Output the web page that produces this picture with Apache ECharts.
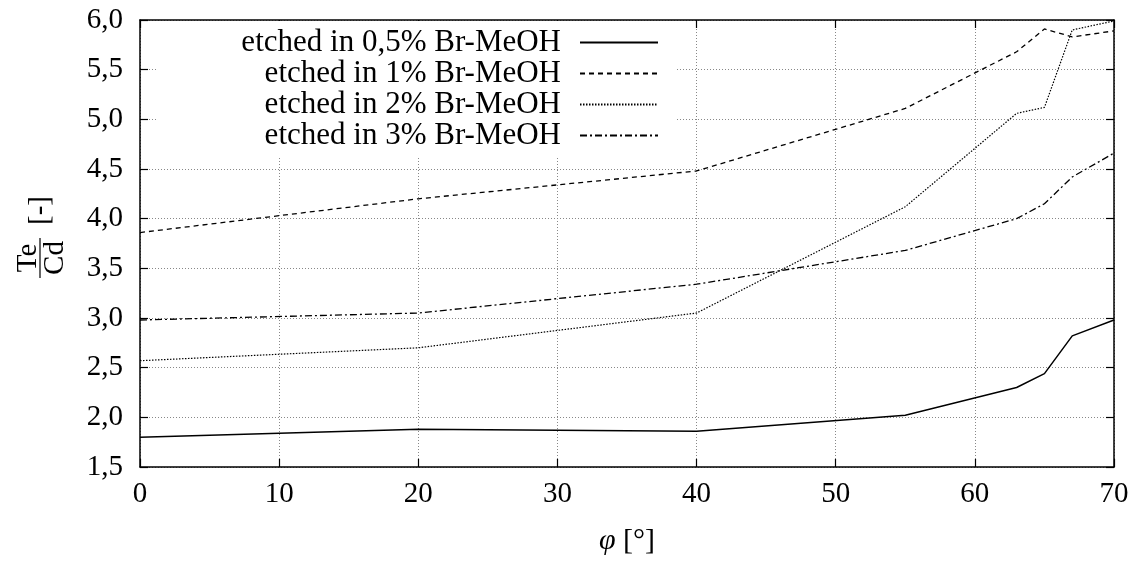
<!DOCTYPE html>
<html>
<head>
<meta charset="utf-8">
<script src="https://cdn.jsdelivr.net/npm/echarts@6/dist/echarts.min.js"></script>
<style>
html, body { margin: 0; background: #fff; }
#chart { width: 1138px; height: 563px; }
</style>
</head>
<body>
<div id="chart"></div>
<script>
// tilt angle phi [deg] at which Te/Cd was measured
const angles = [0, 20, 40, 55, 63, 65, 67, 70];

// Te/Cd ratio per etching solution
const etch05 = [1.80, 1.88, 1.86, 2.02, 2.30, 2.44, 2.82, 2.98];
const etch1 = [3.86, 4.20, 4.48, 5.11, 5.68, 5.91, 5.83, 5.89];
const etch2 = [2.57, 2.70, 3.05, 4.12, 5.06, 5.12, 5.90, 5.99];
const etch3 = [2.98, 3.05, 3.34, 3.68, 4.00, 4.15, 4.42, 4.66];

const seriesNames = [
    'etched in 0,5% Br-MeOH',
    'etched in 1% Br-MeOH',
    'etched in 2% Br-MeOH',
    'etched in 3% Br-MeOH'
];

const xTicks = [0, 10, 20, 30, 40, 50, 60, 70];
const yTicks = [1.5, 2.0, 2.5, 3.0, 3.5, 4.0, 4.5, 5.0, 5.5, 6.0];

const serif = 'Liberation Serif';

function pairs(values) {
    return angles.map((a, i) => [a, values[i]]);
}

function mkSeries(name, values, width, type) {
    return {
        name: name,
        type: 'line',
        symbol: 'none',
        data: pairs(values),
        lineStyle: { color: '#000', width: width, type: type },
        itemStyle: { color: '#000' }
    };
}

const border = { show: true, onZero: false, lineStyle: { color: '#000', width: 1.5 } };
const ticks = { show: true, inside: true, length: 8, lineStyle: { color: '#000', width: 1.2 } };
const grid_line = { show: true, lineStyle: { color: '#888', width: 1, type: [1, 2] } };

let chart = echarts.init(document.getElementById('chart'));
chart.setOption({
    animation: false,
    backgroundColor: '#fff',
    grid: { left: 140, right: 24, top: 20, bottom: 96 },
    legend: {
        data: seriesNames,
        orient: 'vertical',
        align: 'right',
        right: 461,
        top: 21,
        padding: [6, 18, 7, 84],
        backgroundColor: '#fff',
        itemWidth: 78,
        itemHeight: 14,
        itemGap: 0,
        selectedMode: false,
        itemStyle: { opacity: 0 },
        textStyle: { fontFamily: serif, fontSize: 31, color: '#000', padding: [0, 14, 0, 0] }
    },
    xAxis: [
        {
            type: 'value',
            min: xTicks[0],
            max: xTicks[xTicks.length - 1],
            interval: xTicks[1] - xTicks[0],
            axisLine: border,
            axisTick: ticks,
            splitLine: grid_line,
            axisLabel: { fontFamily: serif, fontSize: 29, color: '#000', margin: 13 },
            name: '{i|φ} [°]',
            nameLocation: 'middle',
            nameGap: 59,
            nameTextStyle: {
                fontFamily: serif, fontSize: 30, color: '#000',
                rich: { i: { fontFamily: serif, fontSize: 30, fontStyle: 'italic', color: '#000' } }
            }
        },
        {
            type: 'value',
            position: 'top',
            min: xTicks[0],
            max: xTicks[xTicks.length - 1],
            interval: xTicks[1] - xTicks[0],
            axisLine: border,
            axisTick: ticks,
            axisLabel: { show: false },
            splitLine: { show: false }
        }
    ],
    yAxis: [
        {
            type: 'value',
            min: yTicks[0],
            max: yTicks[yTicks.length - 1],
            interval: 0.5,
            axisLine: border,
            axisTick: ticks,
            splitLine: grid_line,
            axisLabel: {
                fontFamily: serif, fontSize: 29, color: '#000', margin: 17,
                formatter: v => v.toFixed(1).replace('.', ',')
            }
        },
        {
            type: 'value',
            position: 'right',
            min: yTicks[0],
            max: yTicks[yTicks.length - 1],
            interval: 0.5,
            axisLine: border,
            axisTick: ticks,
            axisLabel: { show: false },
            splitLine: { show: false }
        }
    ],
    // y axis title: Te over Cd as a fraction, then [-]
    graphic: [
        {
            type: 'group',
            x: 40,
            y: 258,
            rotation: Math.PI / 2,
            children: [
                {
                    type: 'text',
                    style: { text: 'Te', x: 0, y: 3, align: 'center', verticalAlign: 'bottom', fontFamily: serif, fontSize: 29, fill: '#000' }
                },
                {
                    type: 'line',
                    shape: { x1: -20, y1: 0, x2: 20, y2: 0 },
                    style: { stroke: '#000', lineWidth: 1.2 }
                },
                {
                    type: 'text',
                    style: { text: 'Cd', x: 0, y: 1, align: 'center', verticalAlign: 'top', fontFamily: serif, fontSize: 29, fill: '#000' }
                },
                {
                    type: 'text',
                    style: { text: '[-]', x: 33, y: 0, align: 'left', verticalAlign: 'middle', fontFamily: serif, fontSize: 29, fill: '#000' }
                }
            ]
        }
    ],
    series: [
        mkSeries(seriesNames[0], etch05, 1.5, 'solid'),
        mkSeries(seriesNames[1], etch1, 1.3, [5, 4]),
        mkSeries(seriesNames[2], etch2, 1.2, [1.5, 1.5]),
        mkSeries(seriesNames[3], etch3, 1.3, [7, 3, 2, 3])
    ]
});
</script>
</body>
</html>
